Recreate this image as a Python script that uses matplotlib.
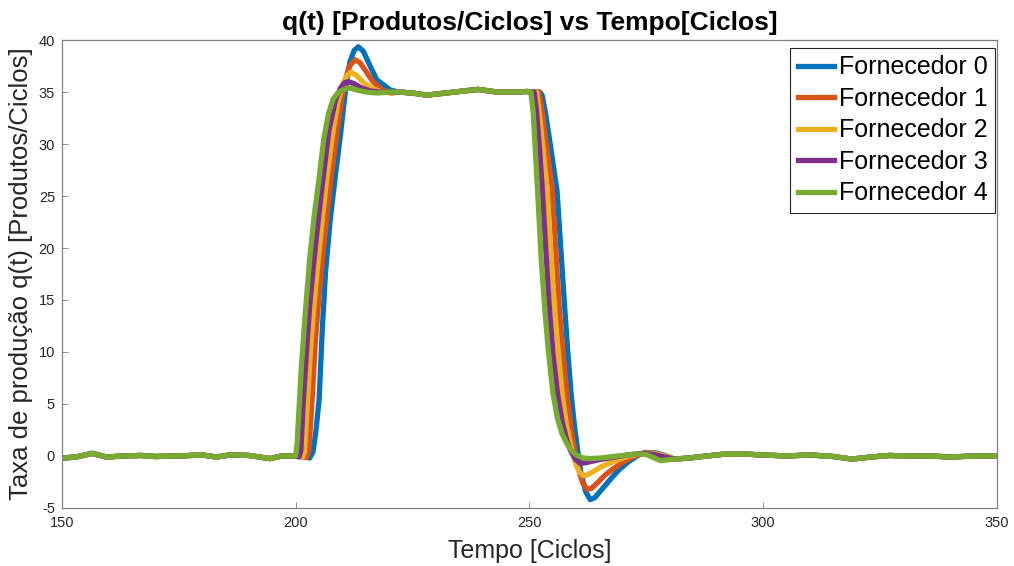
import numpy as np
import matplotlib.pyplot as plt

plt.rcParams['font.family'] = ['Liberation Sans', 'DejaVu Sans']
plt.rcParams['axes.unicode_minus'] = False

# shared flat parts
t_pre = [150, 153, 156.5, 159.5, 163, 167, 170, 175, 180, 183, 186, 190, 194.5, 197, 199]
q_pre = [-0.2, -0.1, 0.25, -0.1, 0.0, 0.05, -0.05, 0.0, 0.1, -0.1, 0.1, 0.05, -0.25, 0.0, 0.0]

t_mid = [222, 225, 228, 232, 236, 239, 243, 247, 249.5]
q_mid = [35.0, 34.9, 34.7, 34.9, 35.1, 35.25, 35.0, 35.0, 35.05]

t_post = [281, 284, 287, 291, 295, 300, 305, 310, 315, 319, 323, 327, 331, 336, 340, 345, 350]
q_post = [-0.3, -0.2, -0.05, 0.15, 0.2, 0.1, 0.0, 0.1, -0.05, -0.3, -0.1, 0.05, 0.0, 0.0, -0.1, 0.0, 0.0]

# Fornecedor 0 (blue)
t_rise_0 = [200, 202, 203.0, 203.7, 204.3, 205.0, 205.7, 206.4, 207.4, 208.5, 209.6, 210.3,
            211.0, 211.6, 212.5, 213.4, 214.5, 215.5, 217.3, 220.2]
q_rise_0 = [0.0, 0.0, -0.2, 0.4, 2.3, 5.4, 12.3, 17.8, 22.8, 27.0, 31.0, 33.8,
            36.3, 37.9, 39.0, 39.35, 38.9, 37.9, 36.2, 35.2]
t_fall_0 = [250, 252.2, 252.7, 253.5, 254.5, 255.9, 256.7, 257.5, 258.2, 258.9, 259.6, 260.3,
            261.0, 262.0, 263.0, 264.0, 265.5, 267.0, 269.0, 271.0, 273.0, 274.7, 277.0, 279]
q_fall_0 = [35.0, 35.0, 34.7, 32.8, 29.8, 25.5, 20.0, 14.5, 10.0, 6.0, 3.0, 0.6,
            -1.6, -3.4, -4.2, -4.0, -3.2, -2.4, -1.4, -0.6, 0.0, 0.35, 0.3, 0.05]

# Fornecedor 1 (orange)
t_rise_1 = [200, 202.3, 202.8, 203.5, 204.2, 205.0, 205.7, 206.6, 207.5, 208.9, 209.8, 210.6,
            211.5, 212.7, 213.8, 215, 216.5, 218.5, 220.5]
q_rise_1 = [0.0, -0.15, 0.5, 5.3, 11.0, 15.5, 18.8, 22.8, 26.5, 31.3, 34.2, 36.2,
            37.5, 38.1, 37.8, 37.0, 36.0, 35.2, 34.9]
t_fall_1 = [250, 252.0, 252.6, 253.5, 254.8, 255.6, 256.4, 257.2, 258.0, 258.8, 259.6, 260.5,
            261.4, 262.3, 263.3, 264.5, 266, 268, 270, 272, 274.5, 277, 279]
q_fall_1 = [35.0, 35.0, 33.5, 30.3, 26.0, 20.0, 14.0, 9.8, 6.0, 3.0, 0.7, -1.3,
            -2.6, -3.2, -3.1, -2.6, -1.9, -1.2, -0.6, -0.1, 0.3, 0.25, 0.0]

# Fornecedor 2 (yellow)
t_rise_2 = [200, 201.5, 201.9, 202.5, 203.2, 204.0, 204.8, 205.7, 206.6, 208.0, 209.1, 210.2,
            211.0, 211.8, 213.0, 214.5, 216.5, 218.5, 220.5]
q_rise_2 = [0.0, -0.1, 0.5, 5.2, 10.5, 15.0, 18.8, 22.8, 26.5, 31.3, 34.2, 35.9,
            36.6, 36.9, 36.6, 35.9, 35.3, 35.0, 34.9]
t_fall_2 = [250, 251.5, 252.1, 252.8, 253.7, 254.6, 255.4, 256.2, 257.0, 257.9, 258.9, 259.8,
            260.6, 261.5, 262.5, 264, 265.5, 267, 269, 271, 273, 275, 277, 279]
q_fall_2 = [35.0, 35.0, 33.0, 30.0, 26.0, 19.5, 14.0, 9.8, 6.0, 3.0, 0.9, -0.6,
            -1.5, -1.9, -1.8, -1.4, -1.0, -0.7, -0.35, -0.05, 0.15, 0.3, 0.2, 0.0]

# Fornecedor 3 (purple)
t_rise_3 = [200, 200.7, 201.1, 201.6, 202.3, 203.0, 203.9, 204.9, 205.8, 207.1, 208.5, 209.6,
            210.5, 211.3, 212.5, 214, 216, 218, 220]
q_rise_3 = [0.0, -0.1, 0.5, 5.0, 10.0, 14.5, 18.8, 23.0, 26.5, 31.3, 34.2, 35.4,
            35.9, 36.0, 35.8, 35.4, 35.1, 35.0, 35.0]
t_fall_3 = [250, 251.0, 251.5, 252.0, 252.7, 253.5, 254.3, 255.1, 256.0, 257.0, 258.0, 258.8,
            259.8, 260.8, 262, 263.5, 265, 267, 269, 271, 273, 275, 277, 279]
q_fall_3 = [35.0, 35.0, 33.2, 30.5, 26.0, 19.8, 14.0, 9.6, 6.0, 3.3, 1.5, 0.5,
            -0.3, -0.7, -0.65, -0.5, -0.35, -0.2, -0.05, 0.1, 0.2, 0.25, 0.1, -0.1]

# Fornecedor 4 (green)
t_rise_4 = [200.0, 200.3, 200.7, 201.2, 202.0, 203.0, 204.0, 205.0, 206.0, 207.0, 208.0, 209.0,
            210.0, 211.5, 213, 215, 217.5, 220]
q_rise_4 = [0.0, 1.2, 4.5, 8.5, 13.5, 19.0, 23.3, 26.7, 30.5, 32.9, 34.3, 34.9,
            35.2, 35.4, 35.2, 35.0, 34.9, 35.0]
t_fall_4 = [250.3, 250.8, 251.3, 251.8, 252.5, 253.3, 254.0, 255.0, 256.0, 257.0, 258.0, 259.0,
            260.0, 261.5, 263, 265, 267, 269, 271, 273, 275, 278]
q_fall_4 = [35.0, 33.0, 29.0, 25.0, 19.0, 14.0, 10.3, 6.1, 3.6, 2.1, 1.2, 0.5,
            0.1, -0.2, -0.25, -0.2, -0.1, 0.0, 0.1, 0.2, 0.15, -0.45]

labels = ['Fornecedor 0', 'Fornecedor 1', 'Fornecedor 2', 'Fornecedor 3', 'Fornecedor 4']
colors = ['#0072BD', '#D95319', '#EDB120', '#7E2F8E', '#77AC30']

rises = [(t_rise_0, q_rise_0), (t_rise_1, q_rise_1), (t_rise_2, q_rise_2),
         (t_rise_3, q_rise_3), (t_rise_4, q_rise_4)]
falls = [(t_fall_0, q_fall_0), (t_fall_1, q_fall_1), (t_fall_2, q_fall_2),
         (t_fall_3, q_fall_3), (t_fall_4, q_fall_4)]

fig = plt.figure(figsize=(10.14, 5.66), dpi=100)
ax = fig.add_axes([0.0611, 0.1025, 0.9221, 0.8268])

for i in range(5):
    t = t_pre + rises[i][0] + t_mid + falls[i][0] + t_post
    q = q_pre + rises[i][1] + q_mid + falls[i][1] + q_post
    ax.plot(t, q, color=colors[i], lw=3.8, label=labels[i], solid_joinstyle='round')

ax.set_xlim(150, 350)
ax.set_ylim(-5, 40)
ax.set_xticks(np.arange(150, 351, 50))
ax.set_yticks(np.arange(-5, 41, 5))
ax.tick_params(direction='in', length=4, width=0.6, color='#808080',
               labelsize=10.5, labelcolor='#262626', top=False, right=False)
ax.tick_params(axis='x', pad=6)
ax.tick_params(axis='y', pad=5)
for s in ax.spines.values():
    s.set_color('#808080')
    s.set_linewidth(0.9)

ax.set_title('q(t) [Produtos/Ciclos] vs Tempo[Ciclos]', fontsize=19, fontweight='bold', pad=7)
ax.set_xlabel('Tempo [Ciclos]', fontsize=18, color='#262626', labelpad=6)
ax.set_ylabel('Taxa de produção q(t) [Produtos/Ciclos]', fontsize=18.5, color='#262626', labelpad=4)

leg = ax.legend(loc='upper right', bbox_to_anchor=(0.998, 0.983), fontsize=18,
                handlelength=1.45, handletextpad=0.2, borderpad=0.3, labelspacing=0.3,
                fancybox=False, framealpha=1, borderaxespad=0)
leg.get_frame().set_edgecolor('#262626')
leg.get_frame().set_linewidth(0.8)

fig.savefig('out.png', dpi=100)
